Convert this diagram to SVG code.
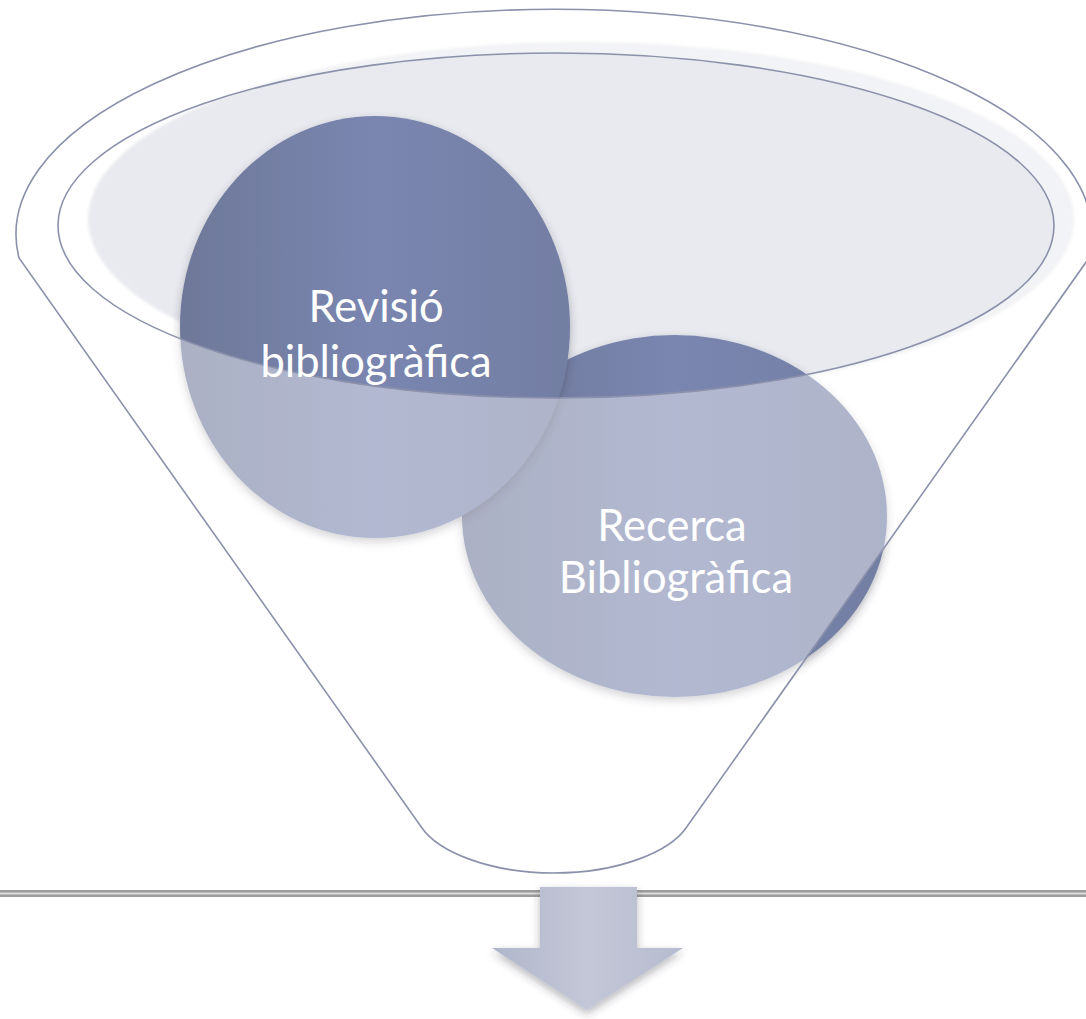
<svg xmlns="http://www.w3.org/2000/svg" width="1086" height="1019" viewBox="0 0 1086 1019">
  <defs>
    <linearGradient id="circGrad" x1="0" y1="0" x2="1" y2="0">
      <stop offset="0" stop-color="#6e7899"/>
      <stop offset="0.5" stop-color="#7a86b0"/>
      <stop offset="1" stop-color="#737ea3"/>
    </linearGradient>
    <linearGradient id="arrowGrad" x1="0" y1="0" x2="1" y2="0">
      <stop offset="0" stop-color="#b0b6ca"/>
      <stop offset="0.5" stop-color="#c3c7d7"/>
      <stop offset="1" stop-color="#b6bbcf"/>
    </linearGradient>
    <filter id="shadow" x="-20%" y="-20%" width="140%" height="140%">
      <feDropShadow dx="0" dy="4" stdDeviation="4" flood-color="#303040" flood-opacity="0.35"/>
    </filter>
    <filter id="blurEdge" x="-5%" y="-5%" width="110%" height="110%">
      <feGaussianBlur stdDeviation="1.5"/>
    </filter>
  </defs>
  <style>
    .outline { fill: none; stroke: #8b91ab; stroke-width: 1.6; }
    .circ { fill: url(#circGrad); filter: url(#shadow); }
    .label { font-family: Lato, "Open Sans", "Liberation Sans", sans-serif; font-size: 43.5px; fill: #ffffff; text-anchor: middle; }
  </style>
  <rect x="0" y="0" width="1086" height="1019" fill="#ffffff"/>

  <g id="funnel-rim-fill">
    <ellipse cx="581" cy="219" rx="493" ry="177" fill="#e9eaef" filter="url(#blurEdge)"/>
  </g>

  <g id="node-recerca">
    <ellipse class="circ" cx="674.5" cy="516" rx="212.5" ry="181"/>
  </g>
  <g id="node-revisio">
    <ellipse class="circ" cx="375" cy="327" rx="195" ry="211"/>
  </g>

  <g id="funnel">
    <path fill="#ffffff" fill-opacity="0.42" fill-rule="evenodd"
      d="M 19 258 A 538 225 0 1 1 1089 258 L 686 828 C 670 851 620 873 554 873 C 488 873 438 851 422 828 Z
         M 58 225.5 A 498 172.5 0 1 0 1054 225.5 A 498 172.5 0 1 0 58 225.5 Z"/>
    <path class="outline" d="M 19 258 A 538 225 0 1 1 1089 258 L 686 828 C 670 851 620 873 554 873 C 488 873 438 851 422 828 Z"/>
    <ellipse class="outline" cx="556" cy="225.5" rx="498" ry="172.5"/>
  </g>

  <g id="label-revisio">
    <text class="label" x="376" y="322">Revisió</text>
    <text class="label" x="376" y="377">bibliogràfica</text>
  </g>
  <g id="label-recerca">
    <text class="label" x="672" y="541">Recerca</text>
    <text class="label" x="676" y="593">Bibliogràfica</text>
  </g>

  <g id="divider">
    <rect x="0" y="890" width="1086" height="7" fill="#9d9d9d"/>
    <rect x="0" y="892.6" width="1086" height="1.8" fill="#e2e2e2"/>
  </g>

  <g id="connectors">
    <polygon points="540,887 637,887 637,948 683,948 587,1010 492,948 540,948" fill="url(#arrowGrad)" filter="url(#shadow)"/>
  </g>
</svg>
